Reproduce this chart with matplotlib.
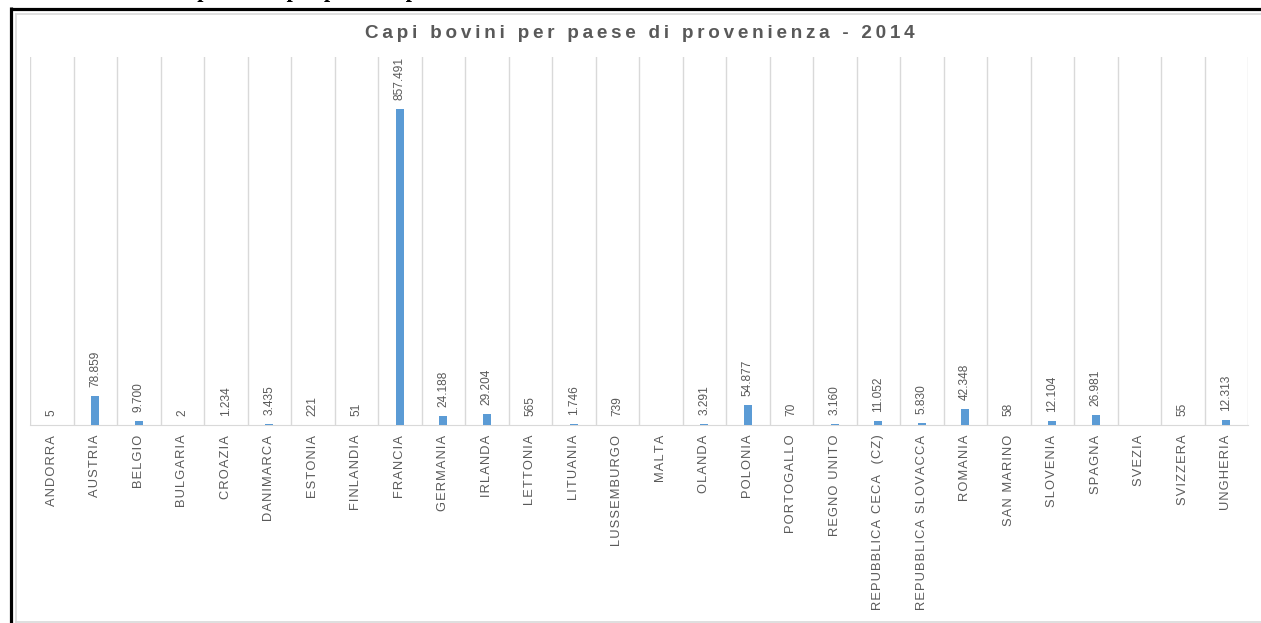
import matplotlib
matplotlib.use("Agg")
import matplotlib.pyplot as plt
from matplotlib.lines import Line2D

# dati: capi bovini per paese di provenienza, 2014
paesi = ["ANDORRA", "AUSTRIA", "BELGIO", "BULGARIA", "CROAZIA", "DANIMARCA",
         "ESTONIA", "FINLANDIA", "FRANCIA", "GERMANIA", "IRLANDA", "LETTONIA",
         "LITUANIA", "LUSSEMBURGO", "MALTA", "OLANDA", "POLONIA", "PORTOGALLO",
         "REGNO UNITO", "REPUBBLICA CECA  (CZ)", "REPUBBLICA SLOVACCA", "ROMANIA",
         "SAN MARINO", "SLOVENIA", "SPAGNA", "SVEZIA", "SVIZZERA", "UNGHERIA"]
capi = [5, 78859, 9700, 2, 1234, 3435,
        221, 51, 857491, 24188, 29204, 565,
        1746, 739, None, 3291, 54877, 70,
        3160, 11052, 5830, 42348,
        58, 12104, 26981, None, 55, 12313]

grigio = "#595959"
linea = "#d9d9d9"
blu = "#5b9bd5"
font = ["Liberation Sans", "DejaVu Sans"]


def spaziato(s, sp="\u200a"):
    return sp.join(s)


def formato_it(v):
    return f"{v:,}".replace(",", ".")


fig = plt.figure(figsize=(12.61, 6.23), dpi=100)
W, H = 1261, 623

ax = fig.add_axes([30 / W, 1 - 425 / H, (1248 - 30) / W, (425 - 57) / H])

x = list(range(len(paesi)))
altezze = [v if v is not None else 0 for v in capi]
ax.bar(x, altezze, width=0.19, color=blu, zorder=3)

for i, v in enumerate(capi):
    if v is None:
        continue
    ax.annotate(formato_it(v), (i, v), xytext=(0, 6.5), textcoords="offset points",
                rotation=90, ha="center", va="bottom", fontsize=8.6,
                color=grigio, family=font)

ax.set_xlim(-0.5, len(paesi) - 0.5)
ax.set_ylim(0, 1000000)
for k in range(len(paesi) + 1):
    ax.axvline(k - 0.5, color=linea, lw=1, zorder=1)

ax.set_xticks(x)
ax.set_xticklabels([spaziato(p) for p in paesi], rotation=90, fontsize=9.3,
                   color=grigio, family=font, va="top")
ax.tick_params(axis="x", length=0, pad=7)
ax.set_yticks([])
for s in ["left", "right", "top"]:
    ax.spines[s].set_visible(False)
ax.spines["bottom"].set_color(linea)

fig.text(640 / W, 1 - 33 / H, spaziato("Capi bovini per paese di provenienza - 2014", "\u2009"),
         ha="center", va="center", fontsize=13.6, fontweight="bold",
         color=grigio, family=font)

# testo del documento tagliato in alto
fig.text(170 / W, 1 + 3 / H, "Capi bovini per paese di provenienza",
         ha="left", va="baseline", fontsize=16, fontweight="bold",
         color="black", family=["Liberation Serif", "DejaVu Serif"])

# cornici
fig.add_artist(Line2D([16 / W, 1], [1 - 14 / H, 1 - 14 / H], transform=fig.transFigure,
                      color=linea, lw=1.2))
fig.add_artist(Line2D([16 / W, 16 / W], [1 - 14 / H, 1 - 622 / H], transform=fig.transFigure,
                      color=linea, lw=1.2))
fig.add_artist(Line2D([16 / W, 1], [1 - 622 / H, 1 - 622 / H], transform=fig.transFigure,
                      color=linea, lw=1.2))
fig.add_artist(Line2D([10.5 / W, 1], [1 - 8.5 / H, 1 - 8.5 / H], transform=fig.transFigure,
                      color="black", lw=2.3, solid_capstyle="butt"))
fig.add_artist(Line2D([10.5 / W, 10.5 / W], [1 - 7 / H, 0], transform=fig.transFigure,
                      color="black", lw=2.3, solid_capstyle="butt"))

fig.savefig("out.png", dpi=100, facecolor="white")
